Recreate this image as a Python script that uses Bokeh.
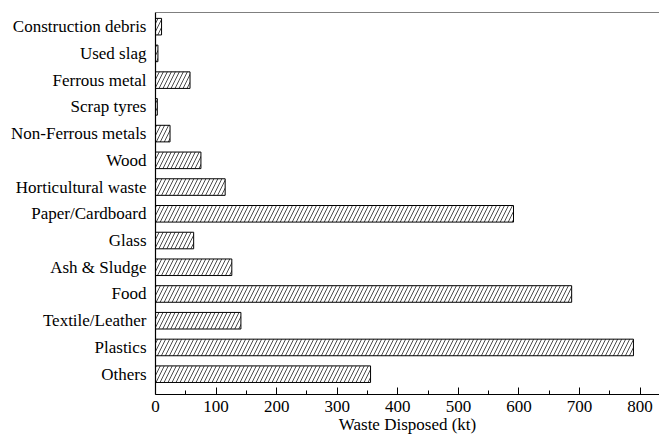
import numpy as np
from bokeh.plotting import figure
from bokeh.models import Range1d, FixedTicker, Span, ColumnDataSource
from bokeh.embed import file_html
from bokeh.resources import INLINE

# Categories from bottom to top
categories = ["Others", "Plastics", "Textile/Leather", "Food", "Ash & Sludge", "Glass",
              "Paper/Cardboard", "Horticultural waste", "Wood", "Non-Ferrous metals",
              "Scrap tyres", "Ferrous metal", "Used slag", "Construction debris"]
values = [355, 789, 141, 687, 126, 63, 591, 115, 75, 24, 3, 57, 4, 10]
x_ticks = [0, 100, 200, 300, 400, 500, 600, 700, 800]
x_minor = [50, 150, 250, 350, 450, 550, 650, 750]

ypos = list(np.arange(1, len(categories) + 1))
src = ColumnDataSource(dict(y=ypos, v=values, cat=categories))

FONT = "Liberation Serif"
y_start, y_end = 0.24, 14.53

p = figure(width=659, height=436, output_backend="svg", toolbar_location=None,
           x_range=Range1d(0, 832), y_range=Range1d(y_start, y_end),
           min_border_left=155, min_border_right=0, min_border_top=12, min_border_bottom=0)

p.hbar(y="y", right="v", left=0, height=0.62, source=src, fill_color="white",
       line_color="black", line_width=1, hatch_pattern="/", hatch_color="black",
       hatch_scale=8, hatch_weight=0.7)

p.outline_line_color = None
p.add_layout(Span(location=y_end, dimension="width", line_color="black", line_width=1.2))
p.grid.visible = False
p.background_fill_color = "white"
p.border_fill_color = "white"

xa = p.xaxis[0]
xa.ticker = FixedTicker(ticks=x_ticks, minor_ticks=x_minor)
xa.axis_label = "Waste Disposed (kt)"
xa.axis_label_text_font = FONT
xa.axis_label_text_font_style = "normal"
xa.axis_label_text_font_size = "17px"
xa.axis_label_text_color = "black"
xa.axis_label_standoff = 0
xa.major_label_text_font = FONT
xa.major_label_text_font_size = "17px"
xa.major_label_text_color = "black"
xa.major_label_standoff = 6
xa.major_tick_in = 7
xa.major_tick_out = 0
xa.minor_tick_in = 4
xa.minor_tick_out = 0
xa.axis_line_width = 1.2
xa.axis_line_color = "black"
xa.major_tick_line_color = "black"
xa.minor_tick_line_color = "black"

ya = p.yaxis[0]
ya.ticker = FixedTicker(ticks=ypos, minor_ticks=[])
ya.major_label_overrides = {int(y): c for y, c in zip(ypos, categories)}
ya.major_label_text_font = FONT
ya.major_label_text_font_size = "17px"
ya.major_label_text_color = "black"
ya.major_label_standoff = 9
ya.major_tick_in = 0
ya.major_tick_out = 0
ya.minor_tick_in = 0
ya.minor_tick_out = 0
ya.axis_line_width = 1.2
ya.axis_line_color = "black"

open("out.html", "w").write(file_html(p, INLINE))
